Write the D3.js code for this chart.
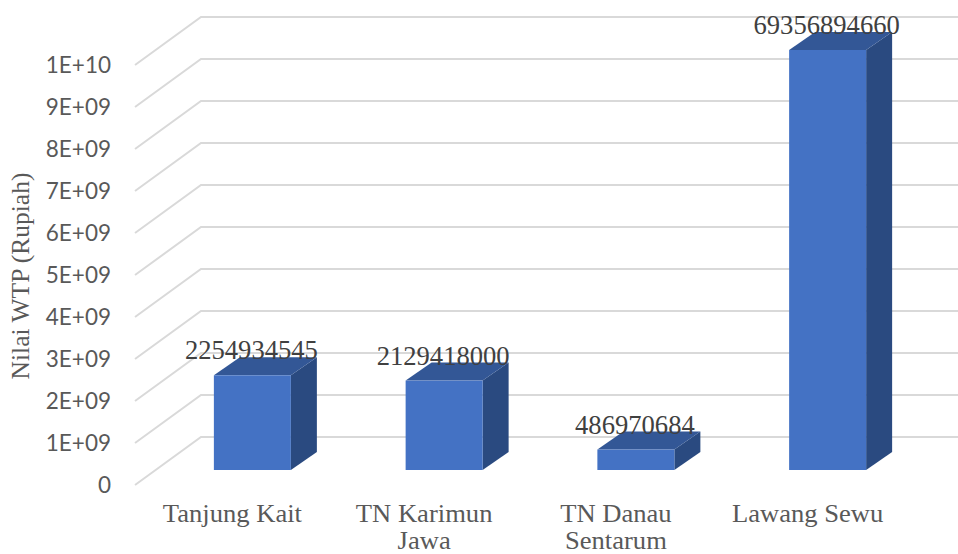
<!DOCTYPE html>
<html>
<head>
<meta charset="utf-8">
<script src="https://cdn.jsdelivr.net/npm/d3@7"></script>
<style>
  html, body { margin: 0; padding: 0; background: #fff; }
  svg { display: block; }
</style>
</head>
<body>
<svg id="chart" width="958" height="554"></svg>
<script>
const categories = [["Tanjung Kait"], ["TN Karimun", "Jawa"], ["TN Danau", "Sentarum"], ["Lawang Sewu"]];
const values = [2254934545, 2129418000, 486970684, 69356894660];
const tickValues = [0, 1e9, 2e9, 3e9, 4e9, 5e9, 6e9, 7e9, 8e9, 9e9, 1e10];
const tickLabels = ["0", "1E+09", "2E+09", "3E+09", "4E+09", "5E+09", "6E+09", "7E+09", "8E+09", "9E+09", "1E+10"];
const axisTitle = "Nilai WTP (Rupiah)";

const svg = d3.select("#chart");

// Oblique projection: the floor runs from the front edge to the back wall.
const floorDx = 66, floorDy = -48;
const barDx = 26, barDy = -18;
const barFrontY = 470;
const frontLeft = 135, wallRight = 958;

const y = d3.scaleLinear().domain([0, 1e10]).range([485, 65]);
const x = d3.scaleBand().domain(d3.range(categories.length)).range([156.5, 923.5]).padding(0);
const barWidth = 77;
// The value axis stops at 1E+10, so taller bars are cut off there.
const barHeight = d => y(0) - y(Math.min(d, 1e10));

// Gridlines: a diagonal on the side wall and a horizontal on the back wall.
const grid = svg.append("g").attr("fill", "none").attr("stroke", "#d9d9d9").attr("stroke-width", 2);
grid.selectAll("path").data(tickValues).join("path")
  .attr("d", d => {
    const p = d3.path();
    p.moveTo(frontLeft, y(d));
    p.lineTo(frontLeft + floorDx, y(d) + floorDy);
    p.lineTo(wallRight, y(d) + floorDy);
    return p.toString();
  });

// Value axis labels.
svg.append("g").selectAll("text").data(tickValues).join("text")
  .attr("x", 111).attr("y", d => y(d) + 8)
  .attr("text-anchor", "end")
  .attr("font-family", "Lato, sans-serif")
  .attr("font-size", 22.5)
  .attr("fill", "#595959")
  .text((d, i) => tickLabels[i]);

// Each bar is three faces: front, top and right side.
const bars = svg.append("g").selectAll("g").data(values).join("g")
  .attr("transform", (d, i) => `translate(${x(i) + (x.bandwidth() - barWidth) / 2},${barFrontY})`);

bars.append("path").attr("fill", "#2a4a80")
  .attr("d", d => {
    const h = barHeight(d);
    return `M${barWidth},0 L${barWidth},${-h} L${barWidth + barDx},${-h + barDy} L${barWidth + barDx},${barDy} Z`;
  });
bars.append("path").attr("fill", "#335796")
  .attr("d", d => {
    const h = barHeight(d);
    return `M0,${-h} L${barDx},${-h + barDy} L${barWidth + barDx},${-h + barDy} L${barWidth},${-h} Z`;
  });
bars.append("rect").attr("fill", "#4472c4")
  .attr("width", barWidth)
  .attr("y", d => -barHeight(d))
  .attr("height", d => barHeight(d));

// Value labels sit on the back edge of each bar's top face.
bars.append("text")
  .attr("x", barWidth / 2 - 1)
  .attr("y", d => -barHeight(d) + barDy + 2)
  .attr("text-anchor", "middle")
  .attr("font-family", "'Liberation Serif', serif")
  .attr("font-size", 26.6)
  .attr("fill", "#404040")
  .text(d => d);

// Category labels, wrapped onto two lines and widened slightly.
const catLabels = svg.append("g").selectAll("text").data(categories).join("text")
  .attr("text-anchor", "middle")
  .attr("font-family", "'Liberation Serif', serif")
  .attr("font-size", 24.4)
  .attr("fill", "#595959")
  .attr("transform", (d, i) => `translate(${x(i) + x.bandwidth() / 2 - 20},521.5) scale(1.09,1)`);
catLabels.selectAll("tspan").data(d => d).join("tspan")
  .attr("x", 0)
  .attr("y", (d, i) => i * 27.2)
  .text(d => d);

// Rotated value axis title.
svg.append("text")
  .attr("transform", "translate(29,276) rotate(-90)")
  .attr("text-anchor", "middle")
  .attr("font-family", "'Liberation Serif', serif")
  .attr("font-size", 25.5)
  .attr("fill", "#595959")
  .text(axisTitle);
</script>
</body>
</html>
